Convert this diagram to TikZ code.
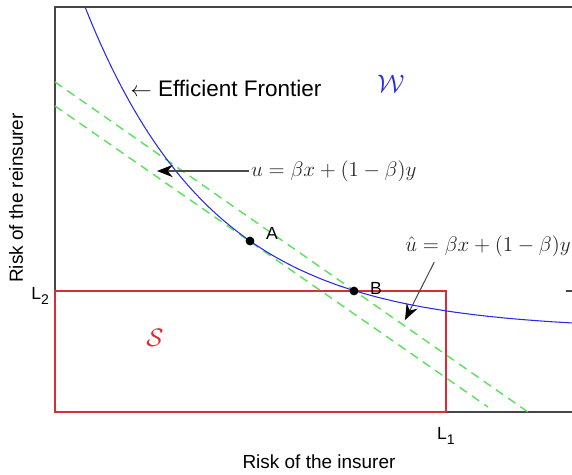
\documentclass[tikz,border=0pt]{standalone}
\usepackage{fontspec}
\setmainfont{Liberation Sans}
\usetikzlibrary{arrows.meta,positioning}
\definecolor{frontblue}{RGB}{40,40,235}
\definecolor{regionred}{RGB}{215,45,55}
\definecolor{lineg}{RGB}{90,225,90}
\definecolor{axisgray}{RGB}{70,70,70}

\begin{document}
\begin{tikzpicture}[x=0.02cm,y=-0.02cm,
    dot/.style={circle,fill=black,inner sep=0pt,minimum size=5pt},
    pointer/.style={-{Stealth[length=9pt,width=7pt,inset=3pt,color=black]},black!70,line width=0.6pt},
    lbl/.style={font=\fontsize{10}{12}\selectfont,inner sep=1pt},
    tangent/.style={lineg,dash pattern=on 5pt off 3.5pt,line width=0.8pt}]
    \useasboundingbox (0,0) rectangle (572,474);
    % axes
    \draw[axisgray,line width=0.6pt] (572,7) -- (55,7) -- (55,412) -- (572,412);
    \draw[axisgray,line width=0.6pt] (566,291) -- (572,291);
    \node[font=\fontsize{10.8}{13}\selectfont] (xlab) at (319,462) {Risk of the insurer};
    \node[rotate=90,font=\fontsize{10.8}{13}\selectfont] (ylab) at (16,198) {Risk of the reinsurer};
    \node[lbl,anchor=east] (L2) at (51,296) {L\raisebox{-0.5ex}{\footnotesize 2}};
    \node[lbl] (L1) at (446,436) {L\raisebox{-0.5ex}{\footnotesize 1}};
    % region S
    \draw[regionred,line width=0.7pt] (55,291) rectangle (446,412);
    \node[regionred,font=\fontsize{14}{16}\selectfont] (S) at (155,338) {$\mathcal{S}$};
    % lines u and u hat
    \draw[tangent] (55,82) -- (528,412);
    \draw[tangent] (55,106) -- (488,407);
    % efficient frontier
    \draw[frontblue,line width=0.6pt] plot[domain=85:572,samples=120,smooth]
        (\x,{330.2-627.3*exp(-0.0078*\x)});
    \node[font=\fontsize{12.8}{15}\selectfont] (front) at (226,88) {$\leftarrow$ Efficient Frontier};
    \node[frontblue,font=\fontsize{14}{16}\selectfont] (W) at (391,84) {$\mathcal{W}$};
    % points A and B
    \node[dot] (A) at (250,241) {};
    \node[dot] (B) at (354,291) {};
    \node[lbl,above right=-2pt and 6pt of A] (labA) {A};
    \node[lbl,above right=-5pt and 6pt of B] (labB) {B};
    % annotations
    \node[font=\fontsize{12}{14}\selectfont,text=black!85,anchor=west,inner sep=1pt] (ueq) at (249,171) {$u=\beta x+(1-\beta)y$};
    \coordinate (uTip) at (157,171);
    \draw[pointer] (ueq.west) -- (uTip);
    \node[font=\fontsize{12}{14}\selectfont,text=black!85,inner sep=1pt] (uhat) at (488,246) {$\hat{u}=\beta x+(1-\beta)y$};
    \coordinate (uhatTip) at (405,320);
    \draw[pointer] ([xshift=0.62cm,yshift=-2pt]uhat.south west) -- (uhatTip);
\end{tikzpicture}
\end{document}
